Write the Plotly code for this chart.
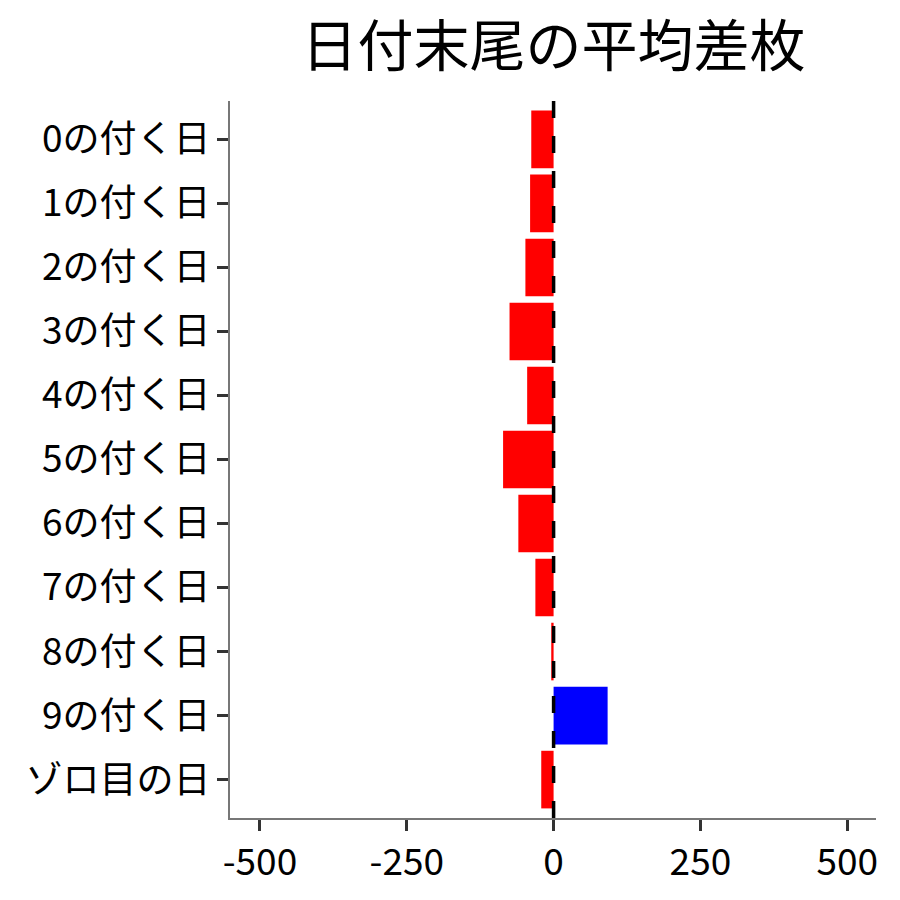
import plotly.graph_objects as go

# 日付末尾ごとの平均差枚
labels = ['0の付く日', '1の付く日', '2の付く日', '3の付く日', '4の付く日',
          '5の付く日', '6の付く日', '7の付く日', '8の付く日', '9の付く日', 'ゾロ目の日']
avg_diff = [-38, -40, -48, -75, -45, -86, -60, -31, -4, 92, -21]
x_ticks = [-500, -250, 0, 250, 500]

colors = ['#0000FF' if v > 0 else '#FF0000' for v in avg_diff]
font = "Noto Sans CJK JP"

fig = go.Figure()
fig.add_trace(go.Bar(x=avg_diff, y=labels, orientation='h', width=0.9,
                     marker=dict(color=colors, line=dict(width=0)), showlegend=False))

fig.add_vline(x=0, line=dict(color='black', width=3.5, dash='17px,18px'))

fig.update_layout(
    width=900, height=900,
    paper_bgcolor='white', plot_bgcolor='white',
    margin=dict(l=222, r=32, t=93, b=90),
    font=dict(family=font, color='black'),
    title=dict(text='日付末尾の平均差枚', x=0.606, xanchor='center', y=0.957, yanchor='middle',
               font=dict(size=56, family=font, color='black')),
    xaxis=dict(range=[-551, 549], tickvals=x_ticks, ticktext=[str(v) for v in x_ticks],
               showgrid=False, zeroline=False, showline=True, linecolor='#777777', linewidth=2,
               ticks='outside', ticklen=11, tickwidth=3, tickcolor='#333333',
               tickfont=dict(size=37, color='black')),
    yaxis=dict(type='category', categoryorder='array', categoryarray=labels,
               range=[10.6, -0.6], showgrid=False, zeroline=False, showline=True,
               linecolor='#777777', linewidth=2, ticks='outside', ticklen=11, tickwidth=3,
               tickcolor='#333333', ticklabelstandoff=-1, tickfont=dict(size=37, color='black')),
)

fig.write_html("out.html")
